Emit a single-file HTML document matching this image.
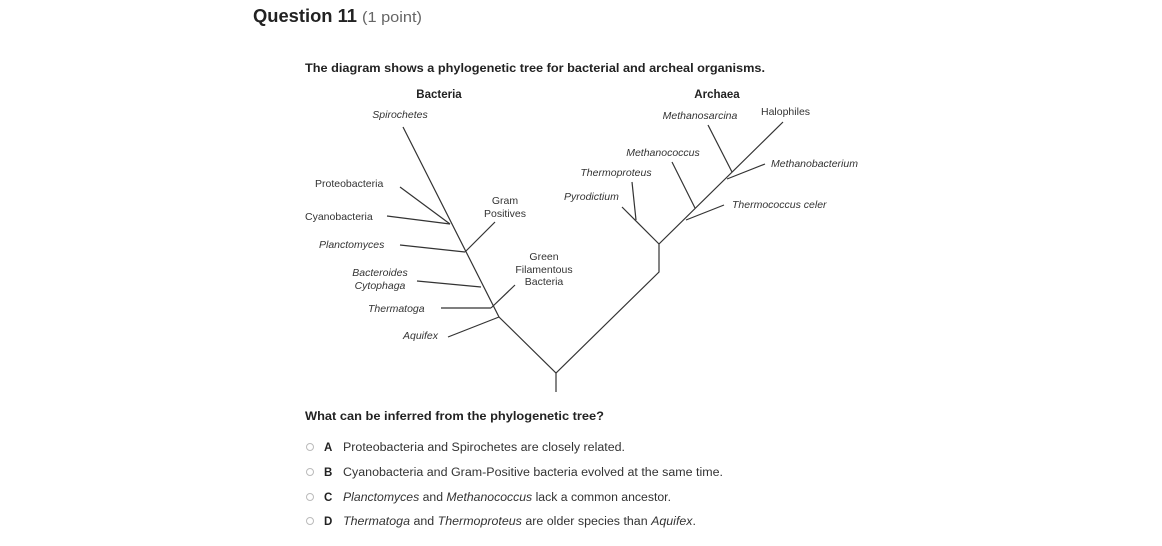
<!DOCTYPE html>
<html><head><meta charset="utf-8"><style>
body{margin:0;background:#fff;width:1162px;height:546px;overflow:hidden}
svg{display:block}
text{font-family:"Liberation Sans",sans-serif;fill:#333}
.s{font-size:10.5px}
.i{font-style:italic}
</style></head><body>
<svg width="1162" height="546" viewBox="0 0 1162 546">
<text x="253" y="22" font-size="18" font-weight="bold" textLength="104" lengthAdjust="spacingAndGlyphs" style="fill:#222">Question 11</text>
<text x="362" y="22" font-size="15" textLength="60" lengthAdjust="spacingAndGlyphs" style="fill:#666">(1 point)</text>
<text x="305" y="72" font-size="11.5" font-weight="bold" textLength="460" lengthAdjust="spacingAndGlyphs" style="fill:#222">The diagram shows a phylogenetic tree for bacterial and archeal organisms.</text>
<text x="439" y="98" font-size="11.5" font-weight="bold" text-anchor="middle" style="fill:#222">Bacteria</text>
<text x="717" y="98" font-size="11.5" font-weight="bold" text-anchor="middle" style="fill:#222">Archaea</text>
<g stroke="#333" stroke-width="1.2" fill="none">
<polyline points="403,127 499,317 556,373 659,272 659,244 783,122"/>
<line x1="556" y1="373" x2="556" y2="392"/>
<line x1="400" y1="187" x2="450" y2="224"/>
<line x1="387" y1="216" x2="450" y2="224"/>
<line x1="400" y1="245" x2="465" y2="252"/>
<line x1="465" y1="252" x2="495" y2="222"/>
<line x1="417" y1="281" x2="481" y2="287"/>
<line x1="441" y1="308" x2="491" y2="308"/>
<line x1="491" y1="308" x2="515" y2="285"/>
<line x1="448" y1="337" x2="499" y2="317"/>
<line x1="622" y1="207" x2="659" y2="244"/>
<line x1="632" y1="182" x2="636" y2="220"/>
<line x1="672" y1="162" x2="695" y2="208"/>
<line x1="724" y1="205" x2="686" y2="220"/>
<line x1="708" y1="125" x2="732" y2="172"/>
<line x1="765" y1="164" x2="727" y2="179"/>
</g>
<g class="s">
<text x="400" y="118" text-anchor="middle" class="i s">Spirochetes</text>
<text x="315" y="187">Proteobacteria</text>
<text x="305" y="220">Cyanobacteria</text>
<text x="319" y="248" class="i s">Planctomyces</text>
<text x="380" y="276" text-anchor="middle" class="i s">Bacteroides</text>
<text x="380" y="289" text-anchor="middle" class="i s">Cytophaga</text>
<text x="368" y="312" class="i s">Thermatoga</text>
<text x="403" y="339" class="i s">Aquifex</text>
<text x="505" y="204" text-anchor="middle">Gram</text>
<text x="505" y="217" text-anchor="middle">Positives</text>
<text x="544" y="260" text-anchor="middle">Green</text>
<text x="544" y="273" text-anchor="middle">Filamentous</text>
<text x="544" y="285" text-anchor="middle">Bacteria</text>
<text x="700" y="119" text-anchor="middle" class="i s">Methanosarcina</text>
<text x="761" y="115">Halophiles</text>
<text x="663" y="156" text-anchor="middle" class="i s">Methanococcus</text>
<text x="616" y="176" text-anchor="middle" class="i s">Thermoproteus</text>
<text x="564" y="200" class="i s">Pyrodictium</text>
<text x="771" y="167" class="i s">Methanobacterium</text>
<text x="732" y="208" class="i s">Thermococcus celer</text>
</g>
<text x="305" y="420" font-size="11.5" font-weight="bold" textLength="299" lengthAdjust="spacingAndGlyphs" style="fill:#222">What can be inferred from the phylogenetic tree?</text>
<g font-size="11.5">
<circle cx="310" cy="447" r="3.5" fill="none" stroke="#bbb"/>
<text x="324" y="451" font-weight="bold" style="fill:#222">A</text>
<text x="343" y="451" textLength="282" lengthAdjust="spacingAndGlyphs">Proteobacteria and Spirochetes are closely related.</text>
<circle cx="310" cy="472" r="3.5" fill="none" stroke="#bbb"/>
<text x="324" y="476" font-weight="bold" style="fill:#222">B</text>
<text x="343" y="476" textLength="380" lengthAdjust="spacingAndGlyphs">Cyanobacteria and Gram-Positive bacteria evolved at the same time.</text>
<circle cx="310" cy="497" r="3.5" fill="none" stroke="#bbb"/>
<text x="324" y="501" font-weight="bold" style="fill:#222">C</text>
<text x="343" y="501" textLength="328" lengthAdjust="spacingAndGlyphs"><tspan font-style="italic">Planctomyces</tspan> and <tspan font-style="italic">Methanococcus</tspan> lack a common ancestor.</text>
<circle cx="310" cy="521" r="3.5" fill="none" stroke="#bbb"/>
<text x="324" y="525" font-weight="bold" style="fill:#222">D</text>
<text x="343" y="525" textLength="353" lengthAdjust="spacingAndGlyphs"><tspan font-style="italic">Thermatoga</tspan> and <tspan font-style="italic">Thermoproteus</tspan> are older species than <tspan font-style="italic">Aquifex</tspan>.</text>
</g>
</svg>
</body></html>
